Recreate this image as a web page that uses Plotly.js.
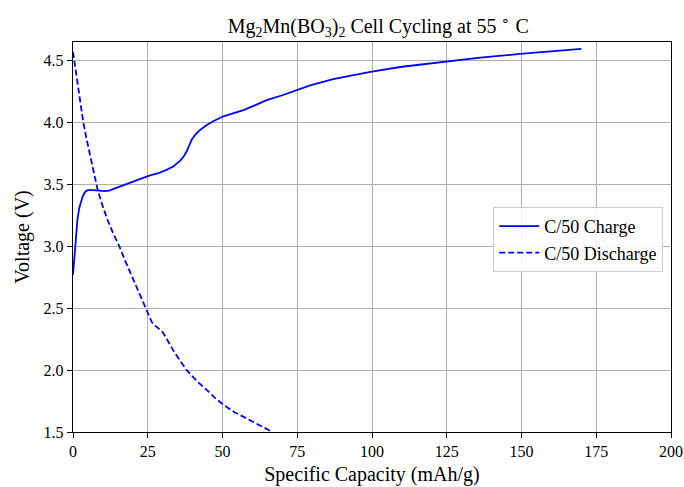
<!DOCTYPE html>
<html>
<head>
<meta charset="utf-8">
<script src="https://cdn.plot.ly/plotly-3.0.1.min.js"></script>
<style>html,body{margin:0;padding:0;background:#fff;}#chart{width:684px;height:487px;}</style>
</head>
<body>
<div id="chart"></div>
<script>
const chargeCapacity = [0, 0.5, 1.0, 1.5, 2.1, 2.7, 3.2, 3.8, 4.4, 5.5, 7, 8.8, 10.5, 12.1, 13.8, 15.5, 18, 20, 22.5, 25.5, 28.5, 31.1, 33.5, 35.8, 37, 38, 38.8, 39.7, 41, 42.5, 44.5, 46.9, 50.3, 53.5, 57, 61, 64.8, 70, 75.9, 79.3, 87, 93, 99.9, 110, 117, 125, 137, 149.5, 160, 170];
const chargeVoltage = [2.77, 2.95, 3.11, 3.22, 3.31, 3.37, 3.40, 3.43, 3.448, 3.456, 3.455, 3.45, 3.445, 3.45, 3.465, 3.48, 3.50, 3.52, 3.545, 3.57, 3.59, 3.615, 3.645, 3.69, 3.725, 3.765, 3.81, 3.86, 3.905, 3.94, 3.975, 4.01, 4.05, 4.075, 4.10, 4.14, 4.18, 4.22, 4.27, 4.30, 4.35, 4.38, 4.41, 4.45, 4.47, 4.49, 4.525, 4.554, 4.575, 4.594];
const dischargeCapacity = [0, 0.4, 1, 2, 3.45, 4.5, 5.5, 6.8, 8.25, 10, 11.6, 13.5, 15.5, 17.5, 20, 22.3, 24.4, 25.5, 26.3, 27.2, 28, 30.2, 34, 38, 41.5, 44.7, 47.5, 50.3, 54, 58, 62, 65.9];
const dischargeVoltage = [4.57, 4.5, 4.40, 4.24, 4.0, 3.87, 3.76, 3.62, 3.456, 3.32, 3.21, 3.10, 3.0, 2.88, 2.74, 2.61, 2.50, 2.44, 2.39, 2.36, 2.35, 2.30, 2.14, 2.00, 1.91, 1.84, 1.775, 1.72, 1.66, 1.61, 1.56, 1.51];
const xTicks = [0, 25, 50, 75, 100, 125, 150, 175, 200];
const yTicks = [1.5, 2.0, 2.5, 3.0, 3.5, 4.0, 4.5];
const seriesNames = ["C/50 Charge", "C/50 Discharge"];

const FONT = "Liberation Serif, Times New Roman, serif";
const traces = [
  {x: chargeCapacity, y: chargeVoltage, name: seriesNames[0], mode: "lines",
   line: {color: "#0000ff", width: 1.8}},
  {x: dischargeCapacity, y: dischargeVoltage, name: seriesNames[1], mode: "lines",
   line: {color: "#0000ff", width: 1.8, dash: "6px,3px"}}
];
const axisCommon = {
  showgrid: true, gridcolor: "#b0b0b0", gridwidth: 1,
  showline: true, linecolor: "#000", linewidth: 1.2, mirror: true,
  ticks: "outside", ticklen: 5, tickwidth: 1, tickcolor: "#000",
  zeroline: false, tickfont: {family: FONT, size: 16, color: "#000"}
};
const layout = {
  width: 684, height: 487,
  margin: {l: 73, r: 13, t: 42, b: 55},
  paper_bgcolor: "#fff", plot_bgcolor: "#fff",
  font: {family: FONT, color: "#000"},
  title: {text: "Mg<sub>2</sub>Mn(BO<sub>3</sub>)<sub>2</sub> Cell Cycling at 55 <sup>∘</sup> C",
          font: {family: FONT, size: 20, color: "#000"}, x: 0.553, xanchor: "center", y: 0.946, yanchor: "middle"},
  xaxis: Object.assign({}, axisCommon, {range: [0, 200], tickvals: xTicks,
          title: {text: "Specific Capacity (mAh/g)", font: {family: FONT, size: 20}, standoff: 7}}),
  yaxis: Object.assign({}, axisCommon, {range: [1.5, 4.65], tickvals: yTicks, tickformat: ".1f",
          title: {text: "Voltage (V)", font: {family: FONT, size: 20}, standoff: 8}}),
  legend: {x: 0.987, y: 0.577, xanchor: "right", yanchor: "top",
           bgcolor: "rgba(255,255,255,0.9)", bordercolor: "#cccccc", borderwidth: 1,
           font: {family: FONT, size: 18, color: "#000"}, tracegroupgap: 0, itemwidth: 40},
  showlegend: true
};
Plotly.newPlot("chart", traces, layout, {staticPlot: true, displayModeBar: false});
</script>
</body>
</html>
